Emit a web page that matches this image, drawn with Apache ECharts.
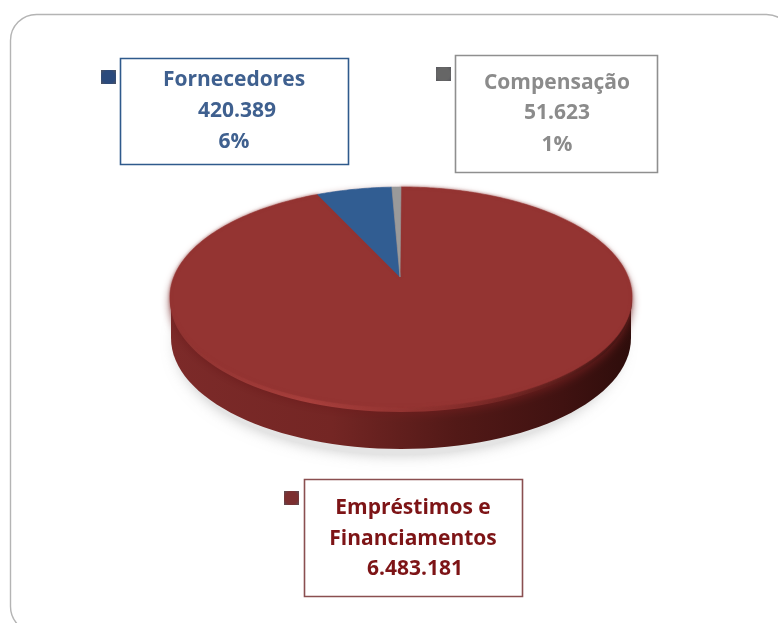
<!DOCTYPE html>
<html><head><meta charset="utf-8">
<style>html,body{margin:0;padding:0;background:#fff}#c{width:778px;height:623px}</style>
<script src="https://cdn.jsdelivr.net/npm/echarts@6/dist/echarts.min.js"></script>
</head><body><div id="c"></div>
<script>
// data
const categories = ['Empréstimos e Financiamentos', 'Fornecedores', 'Compensação'];
const values = [6483181, 420389, 51623];
const labelLines = [
  ['Empréstimos e', 'Financiamentos', '6.483.181'],
  ['Fornecedores', '420.389', '6%'],
  ['Compensação', '51.623', '1%']
];
const faceColors = ['#943432', '#315d92', '#9a9a9a'];
const textColors = ['#7d1416', '#3f608f', '#8b8b8b'];
const borderColors = ['#8a4f50', '#2f5a8c', '#8f8f8f'];
const markerColors = ['#7c2f30', '#2b4a7c', '#666666'];

// layout
const P = {cx: 401, cy: 297, rx: 231, ry: 110, apexY: 277, depth: 43};
const boxes = [
  {x: 304, y: 479, w: 218, h: 117, tx: [413, 413, 415], ty: [508, 539, 569], mx: 284, my: 491},
  {x: 120, y: 58, w: 228, h: 106, tx: [234, 237, 234], ty: [80, 111, 142], mx: 101, my: 70},
  {x: 455, y: 55, w: 202, h: 117, tx: [557, 557, 557], ty: [83, 113, 145], mx: 436, my: 67}
];
const total = values.reduce((a, b) => a + b, 0);
const cum = []; values.reduce((a, v, i) => (cum[i] = a, a + v), 0);

function warp(t) { return t - 0.075 * Math.sin(2 * t); }  // back of the disc is foreshortened
function rim(t) {
  const w = warp(t);
  return [P.cx + P.rx * Math.sin(w), P.cy - P.ry * Math.cos(w)];
}
const wallFill = {type: 'linear', x: 0, y: 0, x2: 1, y2: 0, colorStops: [
  {offset: 0, color: '#7c2a29'}, {offset: .35, color: '#742624'},
  {offset: .62, color: '#521917'}, {offset: .85, color: '#401211'}, {offset: 1, color: '#2e0d0b'}]};

const base = {
  type: 'custom', coordinateSystem: 'none', silent: true, z: 1,
  data: [0],
  renderItem() {
    return {type: 'group', children: [
      {type: 'ellipse', shape: {cx: P.cx - 2, cy: P.cy + P.depth + 3, rx: P.rx - 8, ry: P.ry + 2},
       style: {fill: '#e4e4e4', shadowBlur: 14, shadowColor: 'rgba(150,150,150,.5)'}},
      {type: 'rect', shape: {x: P.cx - P.rx + 1, y: P.cy, width: 2 * P.rx - 2, height: P.depth - 2},
       style: {fill: wallFill}},
      {type: 'ellipse', shape: {cx: P.cx, cy: P.cy + P.depth - 2, rx: P.rx - 1, ry: P.ry + 1},
       style: {fill: wallFill}},
      {type: 'ellipse', shape: {cx: P.cx, cy: P.cy + 3, rx: P.rx, ry: P.ry + 2},
       style: {fill: {type: 'linear', x: 0, y: 0, x2: 1, y2: 0, colorStops: [
         {offset: 0, color: '#8e3230'}, {offset: .3, color: '#a83f3c'},
         {offset: .6, color: '#8a2f2d'}, {offset: .85, color: '#5a1c1a'}, {offset: 1, color: '#3a1110'}]},
        shadowBlur: 9, shadowColor: 'rgba(110,30,30,.8)', shadowOffsetY: 3}}
    ]};
  }
};

const slices = {
  type: 'custom', coordinateSystem: 'none', silent: true, z: 2,
  data: values.map((v, i) => [i, v]),
  renderItem(params, api) {
    const i = api.value(0), v = api.value(1);
    const s = cum[i] / total * 2 * Math.PI, e = s + v / total * 2 * Math.PI;
    const pts = [[P.cx - 1, P.apexY]];
    const n = Math.max(4, Math.ceil((e - s) * 80));
    for (let k = 0; k <= n; k++) pts.push(rim(s + (e - s) * k / n));
    const style = {fill: faceColors[i], stroke: faceColors[i], lineWidth: .6};
    if (i === 0) { style.shadowBlur = 3; style.shadowColor = 'rgba(148,52,50,.6)'; }
    return {type: 'polygon', shape: {points: pts}, style};
  }
};

const labels = {
  type: 'custom', coordinateSystem: 'none', silent: true, z: 3,
  data: categories.map((c, i) => [i]),
  renderItem(params, api) {
    const i = api.value(0), b = boxes[i];
    const kids = [
      {type: 'rect', shape: {x: b.x + .5, y: b.y + .5, width: b.w, height: b.h},
       style: {fill: '#fff', stroke: borderColors[i], lineWidth: 1.6}},
      {type: 'rect', shape: {x: b.mx, y: b.my, width: 15, height: 14},
       style: {fill: {type: 'radial', x: .5, y: .5, r: .75, colorStops: [
         {offset: 0, color: markerColors[i]}, {offset: .6, color: markerColors[i]}, {offset: 1, color: '#55555c'}]}}}
    ];
    labelLines[i].forEach((t, k) => kids.push({type: 'text', style: {
      x: b.tx[k], y: b.ty[k], text: t, fill: textColors[i], align: 'center', verticalAlign: 'middle',
      font: 'bold 21px "Open Sans", sans-serif'}}));
    return {type: 'group', children: kids};
  }
};

const chart = echarts.init(document.getElementById('c'));
chart.setOption({
  animation: false,
  backgroundColor: '#fff',
  graphic: [{type: 'rect', z: 0, silent: true,
    shape: {x: 10.5, y: 14.5, width: 782, height: 618, r: 26},
    style: {fill: '#fff', stroke: '#b4b4b4', lineWidth: 1.4}}],
  series: [base, slices, labels]
});
</script></body></html>
